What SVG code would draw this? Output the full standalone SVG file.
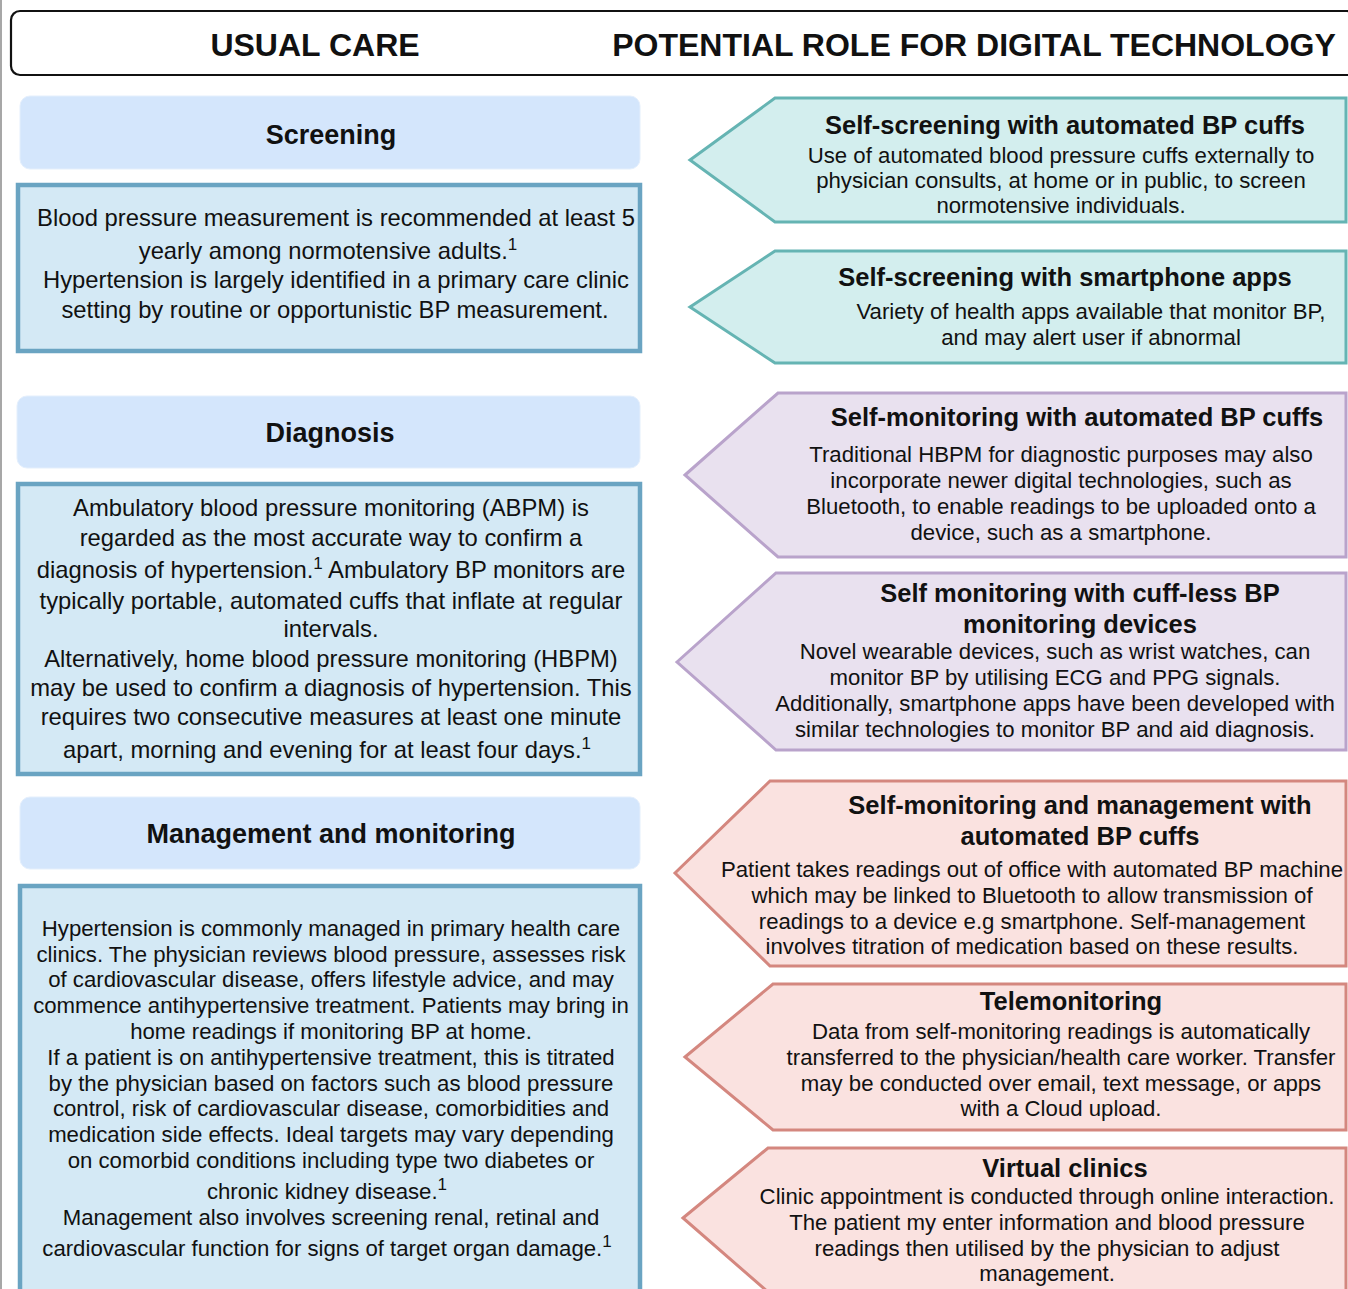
<svg xmlns="http://www.w3.org/2000/svg" width="1348" height="1289" viewBox="0 0 1348 1289">
<style>
text{font-family:"Liberation Sans",Arial,sans-serif;fill:#111;text-anchor:middle}
.hd{font-size:32px;font-weight:bold}
.st{font-size:27px;font-weight:bold}
.lb{font-size:23.8px}
.mb{font-size:22.2px}
.rt{font-size:25.5px;font-weight:bold}
.rb{font-size:22.2px}
.sup{font-size:17px}
.sec{fill:#d4e6fc;stroke:#e4effc;stroke-width:1}
.box{fill:#d4e9f5;stroke:#6aa4c2;stroke-width:4.5}
.teal{fill:#d3eeee;stroke:#65b4b3;stroke-width:3}
.purp{fill:#e9e1ef;stroke:#b9a3cb;stroke-width:3}
.red{fill:#fae2e0;stroke:#d4877f;stroke-width:3}
</style>
<rect width="1348" height="1289" fill="#fff"/>
<line x1="1" y1="0" x2="1" y2="1289" stroke="#8a8a8a" stroke-width="1.5"/>
<g id="header">
<rect x="11" y="11" width="1345" height="64" rx="9" fill="#fff" stroke="#111" stroke-width="2.2"/>
<text class="hd" x="315" y="56">USUAL CARE</text>
<text class="hd" x="974" y="56">POTENTIAL ROLE FOR DIGITAL TECHNOLOGY</text>
</g>
<g id="connectors"></g>
<g id="screening-title">
<rect class="sec" x="20" y="96" width="620" height="73" rx="10"/>
<text class="st" x="331" y="144">Screening</text>
</g>
<g id="screening-body">
<rect class="box" x="18" y="185" width="622" height="166"/>
<text class="lb" x="336" y="226">Blood pressure measurement is recommended at least 5</text>
<text class="lb" x="328" y="259">yearly among normotensive adults.<tspan class="sup" dy="-9">1</tspan></text>
<text class="lb" x="336" y="288">Hypertension is largely identified in a primary care clinic</text>
<text class="lb" x="335" y="318">setting by routine or opportunistic BP measurement.</text>
</g>
<g id="diagnosis-title">
<rect class="sec" x="17" y="396" width="623" height="72" rx="10"/>
<text class="st" x="330" y="442">Diagnosis</text>
</g>
<g id="diagnosis-body">
<rect class="box" x="18" y="484" width="622" height="290"/>
<text class="lb" x="331" y="516">Ambulatory blood pressure monitoring (ABPM) is</text>
<text class="lb" x="331" y="546">regarded as the most accurate way to confirm a</text>
<text class="lb" x="331" y="578">diagnosis of hypertension.<tspan class="sup" dy="-9">1</tspan><tspan dy="9"> Ambulatory BP monitors are</tspan></text>
<text class="lb" x="331" y="609">typically portable, automated cuffs that inflate at regular</text>
<text class="lb" x="331" y="637">intervals.</text>
<text class="lb" x="331" y="667">Alternatively, home blood pressure monitoring (HBPM)</text>
<text class="lb" x="331" y="696">may be used to confirm a diagnosis of hypertension. This</text>
<text class="lb" x="331" y="725">requires two consecutive measures at least one minute</text>
<text class="lb" x="327" y="758">apart, morning and evening for at least four days.<tspan class="sup" dy="-9">1</tspan></text>
</g>
<g id="management-title">
<rect class="sec" x="20" y="797" width="620" height="72" rx="10"/>
<text class="st" x="331" y="843">Management and monitoring</text>
</g>
<g id="management-body">
<rect class="box" x="20" y="886" width="620" height="410"/>
<text class="mb" x="331" y="936">Hypertension is commonly managed in primary health care</text>
<text class="mb" x="331" y="962">clinics. The physician reviews blood pressure, assesses risk</text>
<text class="mb" x="331" y="987">of cardiovascular disease, offers lifestyle advice, and may</text>
<text class="mb" x="331" y="1013">commence antihypertensive treatment. Patients may bring in</text>
<text class="mb" x="331" y="1039">home readings if monitoring BP at home.</text>
<text class="mb" x="331" y="1065">If a patient is on antihypertensive treatment, this is titrated</text>
<text class="mb" x="331" y="1091">by the physician based on factors such as blood pressure</text>
<text class="mb" x="331" y="1116">control, risk of cardiovascular disease, comorbidities and</text>
<text class="mb" x="331" y="1142">medication side effects. Ideal targets may vary depending</text>
<text class="mb" x="331" y="1168">on comorbid conditions including type two diabetes or</text>
<text class="mb" x="327" y="1199">chronic kidney disease.<tspan class="sup" dy="-9">1</tspan></text>
<text class="mb" x="331" y="1225">Management also involves screening renal, retinal and</text>
<text class="mb" x="327" y="1256">cardiovascular function for signs of target organ damage.<tspan class="sup" dy="-9">1</tspan></text>
</g>
<g id="tech-self-screening-cuffs">
<polygon class="teal" points="690,160 775,98 1346,98 1346,222 775,222"/>
<text class="rt" x="1065" y="134">Self-screening with automated BP cuffs</text>
<text class="rb" x="1061" y="163">Use of automated blood pressure cuffs externally to</text>
<text class="rb" x="1061" y="188">physician consults, at home or in public, to screen</text>
<text class="rb" x="1061" y="213">normotensive individuals.</text>
</g>
<g id="tech-self-screening-apps">
<polygon class="teal" points="690,307 775,251 1346,251 1346,363 775,363"/>
<text class="rt" x="1065" y="286">Self-screening with smartphone apps</text>
<text class="rb" x="1091" y="319">Variety of health apps available that monitor BP,</text>
<text class="rb" x="1091" y="345">and may alert user if abnormal</text>
</g>
<g id="tech-self-monitoring-cuffs">
<polygon class="purp" points="685,475 778,393 1346,393 1346,557 778,557"/>
<text class="rt" x="1077" y="426">Self-monitoring with automated BP cuffs</text>
<text class="rb" x="1061" y="462">Traditional HBPM for diagnostic purposes may also</text>
<text class="rb" x="1061" y="488">incorporate newer digital technologies, such as</text>
<text class="rb" x="1061" y="514">Bluetooth, to enable readings to be uploaded onto a</text>
<text class="rb" x="1061" y="540">device, such as a smartphone.</text>
</g>
<g id="tech-cuffless">
<polygon class="purp" points="677,662 776,573 1346,573 1346,750 776,750"/>
<text class="rt" x="1080" y="602">Self monitoring with cuff-less BP</text>
<text class="rt" x="1080" y="633">monitoring devices</text>
<text class="rb" x="1055" y="659">Novel wearable devices, such as wrist watches, can</text>
<text class="rb" x="1055" y="685">monitor BP by utilising ECG and PPG signals.</text>
<text class="rb" x="1055" y="711">Additionally, smartphone apps have been developed with</text>
<text class="rb" x="1055" y="737">similar technologies to monitor BP and aid diagnosis.</text>
</g>
<g id="tech-self-management">
<polygon class="red" points="675,873 770,781 1346,781 1346,966 770,966"/>
<text class="rt" x="1080" y="814">Self-monitoring and management with</text>
<text class="rt" x="1080" y="845">automated BP cuffs</text>
<text class="rb" x="1032" y="877">Patient takes readings out of office with automated BP machine</text>
<text class="rb" x="1032" y="903">which may be linked to Bluetooth to allow transmission of</text>
<text class="rb" x="1032" y="929">readings to a device e.g smartphone. Self-management</text>
<text class="rb" x="1032" y="954">involves titration of medication based on these results.</text>
</g>
<g id="tech-telemonitoring">
<polygon class="red" points="685,1057 773,984 1346,984 1346,1130 773,1130"/>
<text class="rt" x="1071" y="1010">Telemonitoring</text>
<text class="rb" x="1061" y="1039">Data from self-monitoring readings is automatically</text>
<text class="rb" x="1061" y="1065">transferred to the physician/health care worker. Transfer</text>
<text class="rb" x="1061" y="1091">may be conducted over email, text message, or apps</text>
<text class="rb" x="1061" y="1116">with a Cloud upload.</text>
</g>
<g id="tech-virtual-clinics">
<polygon class="red" points="683,1218 768,1148 1346,1148 1346,1292 768,1292"/>
<text class="rt" x="1065" y="1177">Virtual clinics</text>
<text class="rb" x="1047" y="1204">Clinic appointment is conducted through online interaction.</text>
<text class="rb" x="1047" y="1230">The patient my enter information and blood pressure</text>
<text class="rb" x="1047" y="1256">readings then utilised by the physician to adjust</text>
<text class="rb" x="1047" y="1281">management.</text>
</g>
</svg>
